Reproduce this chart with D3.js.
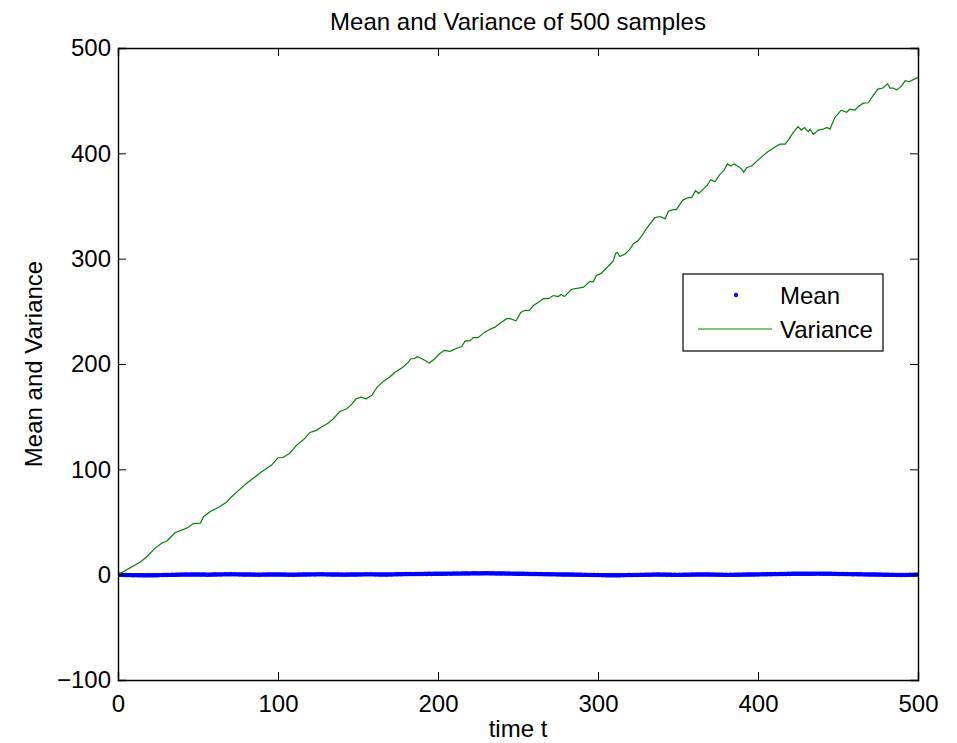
<!DOCTYPE html>
<html>
<head>
<meta charset="utf-8">
<script src="https://cdn.jsdelivr.net/npm/d3@7"></script>
<style>
  body { margin: 0; background: #fff; }
  svg text { font-family: "Liberation Sans", Arial, Helvetica, sans-serif; fill: #000; }
</style>
</head>
<body>
<svg id="chart" width="957" height="743"></svg>
<script>
// values
var title  = "Mean and Variance of 500 samples";
var xLabel = "time t";
var yLabel = "Mean and Variance";
var xTicks = [0, 100, 200, 300, 400, 500];
var yTicks = [-100, 0, 100, 200, 300, 400, 500];

// variance: sample points (time, value)
var varT = [0, 14, 18, 23, 27.5, 30.6, 35.8, 41, 44, 47, 51.5, 53.5, 57.7, 63, 68, 71, 75.4, 80.6, 85.8, 89.6,
  96, 100, 103, 107.5, 111.7, 115.8, 120, 124, 127, 131.5, 134.6, 138.7, 143, 146, 148.8, 152, 155, 158.5, 162, 166,
  169.6, 173, 178, 181.5, 183, 185, 187, 190, 194.6, 198, 201, 204, 207.5, 211.7, 214.8, 217, 220, 222, 225, 229,
  232.5, 235.6, 238.7, 243, 245, 248.8, 251.7, 254.4, 257, 259.6, 263.3, 265.8, 269, 272, 275, 277, 279, 283.5, 287.7, 291,
  295, 297, 299, 302, 306.5, 309.6, 311, 312, 313.7, 317, 320, 322, 325, 328, 330, 332.5, 335.6, 338.7, 342, 344,
  347, 349, 353, 356.5, 358.5, 361, 363, 365.8, 368, 370.4, 373, 376, 378.8, 380.8, 383, 385, 387.7, 389.8, 391, 393,
  396, 400, 403, 406.5, 411.7, 413.7, 417, 419, 422, 425, 427, 429, 431.5, 432.5, 434.6, 437.7, 440.8, 443, 445, 448,
  452, 455.4, 457.5, 460.6, 462.7, 465.8, 469, 472, 475, 478, 481, 482.5, 484.6, 486.7, 489.8, 492, 494.6, 497, 500];
var varV = [0, 12, 17, 25, 30, 32, 40, 43, 45, 48.5, 49, 55, 60, 64, 69, 74, 80, 87, 93, 97.5,
  104, 111, 111, 115.5, 123, 128, 135, 137, 140, 144, 148, 155, 157.5, 161.6, 167, 168.5, 167, 170, 178, 183.7,
  187.5, 192, 197, 201.7, 205, 205, 207, 205, 201, 205, 209.7, 213, 212, 215, 216.6, 222, 222, 225, 225, 230,
  233, 235, 238.7, 243, 243, 241, 249, 251, 250.7, 255.5, 259, 262, 262, 265, 264, 266, 264, 271, 272, 273,
  278.5, 278, 284, 286, 293, 298, 305, 306, 302, 304.5, 309, 314, 317, 323, 328, 333, 339, 340, 338, 345,
  346.5, 346.5, 355.6, 358, 358, 364.5, 362, 366, 369, 375, 373, 379.6, 384, 390, 388, 390, 387.5, 385, 382, 386.5,
  388, 393.5, 397.6, 402, 407, 408.7, 408.7, 412.8, 419.7, 425.4, 422, 424.5, 420.4, 423, 418, 422, 423, 424.5, 423, 434,
  441, 439, 442, 441, 444.4, 447.6, 448, 455, 461, 462, 466, 462, 462, 460, 464, 469, 468, 470, 472];

// mean: one value per time step t = 0 .. 500 (blue dots hugging zero)
var meanV = [
  0,-0.1,-0.1,-0.2,-0.3,-0.3,-0.4,-0.3,-0.4,-0.5,-0.5,-0.4,-0.5,-0.6,-0.6,-0.5,-0.6,-0.7,-0.6,-0.6,
  -0.5,-0.6,-0.5,-0.5,-0.6,-0.5,-0.4,-0.4,-0.3,-0.3,-0.2,-0.3,-0.2,-0.2,-0.1,-0.2,-0.1,-0.1,0,0,
  0.1,0,0.1,0.1,0,0.1,0.2,0.1,0.1,0.2,0.1,0.1,0,0.1,0.1,0,-0.1,0,0,0.1,
  0.1,0.2,0.2,0.3,0.2,0.3,0.3,0.4,0.3,0.3,0.4,0.4,0.3,0.4,0.3,0.3,0.2,0.3,0.2,0.2,
  0.1,0.2,0.1,0.1,0,0.1,0,0,-0.1,0,0,0.1,0,0.1,0.1,0.2,0.1,0.2,0.2,0.1,
  0.2,0.1,0.1,0,0.1,0,0,-0.1,0,-0.1,-0.1,0,0,0.1,0,0.1,0.1,0.2,0.2,0.3,
  0.2,0.3,0.3,0.2,0.3,0.4,0.3,0.4,0.4,0.3,0.3,0.2,0.3,0.2,0.2,0.1,0.2,0.1,0.1,0,
  0.1,0,0,0.1,0,0.1,0.1,0.2,0.1,0.2,0.2,0.3,0.2,0.3,0.3,0.4,0.3,0.3,0.4,0.3,
  0.3,0.2,0.3,0.2,0.2,0.1,0.2,0.1,0.2,0.2,0.3,0.2,0.3,0.3,0.4,0.4,0.5,0.4,0.5,0.5,
  0.6,0.5,0.6,0.6,0.5,0.6,0.7,0.6,0.7,0.7,0.6,0.7,0.8,0.7,0.8,0.8,0.7,0.8,0.9,0.8,
  0.9,0.9,0.8,0.9,1.0,0.9,1.0,1.0,0.9,1.0,1.1,1.0,1.1,1.0,1.0,1.1,1.2,1.1,1.2,1.1,
  1.2,1.2,1.3,1.2,1.3,1.2,1.2,1.3,1.2,1.3,1.4,1.3,1.3,1.2,1.3,1.2,1.2,1.1,1.2,1.1,
  1.1,1.2,1.1,1.0,1.1,1.0,1.0,0.9,1.0,0.9,0.9,0.8,0.9,0.8,0.8,0.7,0.8,0.7,0.7,0.6,
  0.6,0.7,0.6,0.5,0.6,0.5,0.5,0.4,0.5,0.4,0.4,0.3,0.4,0.3,0.3,0.2,0.3,0.2,0.2,0.1,
  0.1,0.2,0.1,0,0.1,0,0,-0.1,0,-0.1,-0.1,-0.2,-0.1,-0.2,-0.2,-0.3,-0.2,-0.3,-0.3,-0.4,
  -0.3,-0.4,-0.4,-0.5,-0.4,-0.5,-0.5,-0.6,-0.5,-0.6,-0.6,-0.5,-0.6,-0.5,-0.5,-0.4,-0.5,-0.4,-0.4,-0.3,
  -0.3,-0.4,-0.3,-0.2,-0.3,-0.2,-0.2,-0.1,-0.2,-0.1,-0.1,0,-0.1,0,0,0.1,0,0.1,0.1,0,
  0,0.1,0,-0.1,0,-0.1,-0.1,-0.2,-0.1,-0.2,-0.2,-0.1,-0.2,-0.1,-0.1,0,-0.1,0,0,0.1,
  0,0.1,0.1,0.2,0.1,0.2,0.2,0.1,0.2,0.1,0.1,0,0.1,0,0,-0.1,0,-0.1,-0.1,-0.2,
  -0.1,-0.2,-0.2,-0.1,-0.2,-0.1,-0.1,0,-0.1,0,0,0.1,0,0.1,0.1,0.2,0.1,0.2,0.2,0.3,
  0.2,0.3,0.3,0.4,0.3,0.4,0.4,0.5,0.4,0.5,0.5,0.6,0.5,0.6,0.6,0.7,0.6,0.7,0.7,0.8,
  0.7,0.8,0.8,0.9,0.8,0.9,0.9,0.8,0.9,0.8,0.8,0.9,0.8,0.9,0.9,1.0,0.9,1.0,1.0,0.9,
  1.0,0.9,0.9,0.8,0.9,0.8,0.8,0.7,0.8,0.7,0.7,0.6,0.7,0.6,0.6,0.5,0.6,0.5,0.5,0.4,
  0.4,0.5,0.4,0.3,0.4,0.3,0.3,0.2,0.3,0.2,0.2,0.1,0.2,0.1,0.1,0,0.1,0,0,-0.1,
  -0.1,0,-0.1,-0.2,-0.1,-0.2,-0.2,-0.3,-0.2,-0.3,-0.3,-0.2,-0.3,-0.2,-0.2,-0.1,-0.2,-0.1,-0.1,0,
  0];

var legendItems = ["Mean", "Variance"];

var svg = d3.select("#chart");
var m = { left: 118, right: 918, top: 48, bottom: 680 };
var fontSize = 24;
var tickLen = 8;

var x = d3.scaleLinear().domain([0, 500]).range([m.left, m.right]);
var y = d3.scaleLinear().domain([-100, 500]).range([m.bottom, m.top]);

svg.append("defs").append("clipPath").attr("id", "plot-clip")
  .append("rect").attr("x", m.left).attr("y", m.top)
  .attr("width", m.right - m.left).attr("height", m.bottom - m.top);

var plot = svg.append("g").attr("clip-path", "url(#plot-clip)");

// mean dots
plot.append("g")
  .selectAll("circle")
  .data(meanV).enter().append("circle")
  .attr("cx", function(d, i) { return x(i); })
  .attr("cy", function(d) { return y(d); })
  .attr("r", 2.2)
  .attr("fill", "#0000ff");

// variance line
var line = d3.line()
  .x(function(d) { return x(d[0]); })
  .y(function(d) { return y(d[1]); });
plot.append("path")
  .datum(d3.zip(varT, varV))
  .attr("d", line)
  .attr("fill", "none")
  .attr("stroke", "#008000")
  .attr("stroke-width", 1.2);

// axes: MATLAB style, ticks pointing inward on all four sides
var axes = svg.append("g");
axes.append("g").attr("transform", "translate(0," + m.bottom + ")")
  .call(d3.axisBottom(x).tickValues(xTicks).tickSize(-tickLen).tickPadding(15).tickFormat(d3.format("d")));
axes.append("g").attr("transform", "translate(0," + m.top + ")")
  .call(d3.axisTop(x).tickValues(xTicks).tickSize(-tickLen).tickFormat(""));
axes.append("g").attr("transform", "translate(" + m.left + ",0)")
  .call(d3.axisLeft(y).tickValues(yTicks).tickSize(-tickLen).tickPadding(7)
    .tickFormat(function(d) { return d < 0 ? "\u2212" + Math.abs(d) : d; }));
axes.append("g").attr("transform", "translate(" + m.right + ",0)")
  .call(d3.axisRight(y).tickValues(yTicks).tickSize(-tickLen).tickFormat(""));
axes.selectAll(".domain").attr("stroke", "#000").attr("stroke-width", 1.4);
axes.selectAll(".tick line").attr("stroke", "#000").attr("stroke-width", 1);
axes.selectAll(".tick text").attr("font-size", fontSize)
  .style("font-family", '"Liberation Sans", Arial, sans-serif').attr("fill", "#000");

// titles
svg.append("text").attr("x", (m.left + m.right) / 2).attr("y", 30)
  .attr("text-anchor", "middle").attr("font-size", fontSize).text(title);
svg.append("text").attr("x", (m.left + m.right) / 2).attr("y", 737)
  .attr("text-anchor", "middle").attr("font-size", fontSize).text(xLabel);
svg.append("text").attr("transform", "translate(42," + (m.top + m.bottom) / 2 + ") rotate(-90)")
  .attr("text-anchor", "middle").attr("font-size", fontSize).text(yLabel);

// legend
var lg = svg.append("g").attr("transform", "translate(683,274)");
lg.append("rect").attr("width", 200).attr("height", 77)
  .attr("fill", "#fff").attr("stroke", "#000").attr("stroke-width", 1.2);
lg.append("circle").attr("cx", 53).attr("cy", 21).attr("r", 2.2).attr("fill", "#0000ff");
lg.append("line").attr("x1", 15).attr("x2", 89).attr("y1", 55).attr("y2", 55)
  .attr("stroke", "#008000").attr("stroke-width", 1.2);
lg.selectAll("text.legend").data(legendItems).enter().append("text")
  .attr("class", "legend")
  .attr("x", 97)
  .attr("y", function(d, i) { return 30 + i * 34; })
  .attr("font-size", fontSize)
  .text(function(d) { return d; });
</script>
</body>
</html>
